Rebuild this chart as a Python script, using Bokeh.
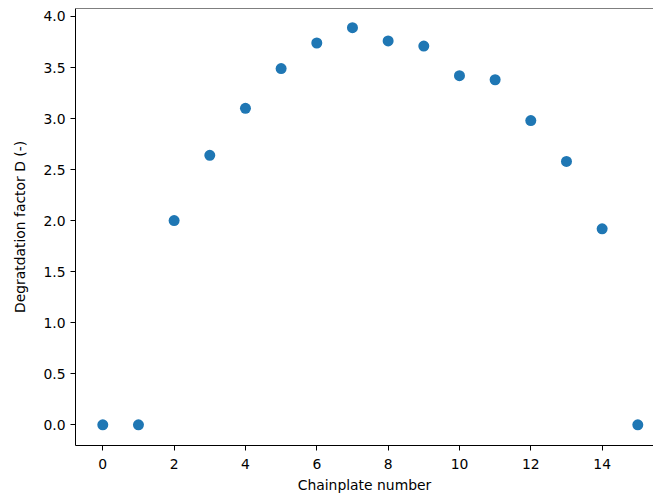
from bokeh.plotting import figure
from bokeh.models import Range1d, FixedTicker, PrintfTickFormatter, Span
from bokeh.embed import file_html
from bokeh.resources import INLINE

chainplate = list(range(16))
degradation = [0.0, 0.0, 2.00, 2.64, 3.10, 3.49, 3.74, 3.89, 3.76, 3.71,
               3.42, 3.38, 2.98, 2.58, 1.92, 0.0]
x_ticks = [0, 2, 4, 6, 8, 10, 12, 14]
y_ticks = [0.0, 0.5, 1.0, 1.5, 2.0, 2.5, 3.0, 3.5, 4.0]

FONT = "DejaVu Sans"
FS = "13.9px"

p = figure(width=653, height=497, output_backend="svg", toolbar_location=None,
           x_range=Range1d(-0.765, 15.44), y_range=Range1d(-0.203, 4.078),
           min_border_left=75, min_border_right=0, min_border_top=8,
           min_border_bottom=52)
p.background_fill_color = "white"
p.border_fill_color = "white"
p.outline_line_color = None
p.grid.visible = False

p.scatter(chainplate, degradation, size=11, fill_color="#1f77b4",
          line_color="#1f77b4", line_width=0)

top_spine = Span(location=p.y_range.end, dimension="width",
                 line_color="black", line_width=1)
p.add_layout(top_spine)

p.xaxis.ticker = FixedTicker(ticks=x_ticks)
p.yaxis.ticker = FixedTicker(ticks=y_ticks)
p.yaxis.formatter = PrintfTickFormatter(format="%.1f")
p.xaxis.axis_label = "Chainplate number"
p.yaxis.axis_label = "Degratdation factor D (-)"

for ax in (p.xaxis[0], p.yaxis[0]):
    ax.axis_line_color = "black"
    ax.major_tick_line_color = "black"
    ax.major_tick_out = 5
    ax.major_tick_in = 0
    ax.minor_tick_line_color = None
    ax.major_label_text_font = FONT
    ax.major_label_text_font_size = FS
    ax.major_label_text_color = "black"
    ax.axis_label_text_font = FONT
    ax.axis_label_text_font_size = FS
    ax.axis_label_text_font_style = "normal"
    ax.axis_label_text_color = "black"

p.xaxis.major_label_standoff = 8
p.xaxis.axis_label_standoff = 5
p.yaxis.major_label_standoff = 5
p.yaxis.axis_label_standoff = 12

open("out.html", "w").write(file_html(p, INLINE))
